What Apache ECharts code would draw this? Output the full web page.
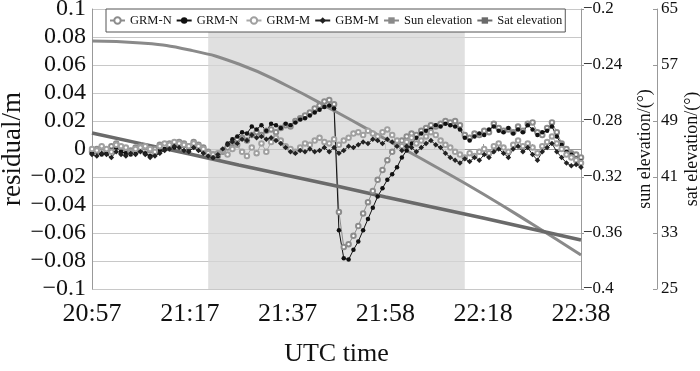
<!DOCTYPE html>
<html>
<head>
<meta charset="utf-8">
<script src="https://cdn.jsdelivr.net/npm/echarts@6/dist/echarts.min.js"></script>
<style>
  html, body { margin: 0; padding: 0; background: #fff; }
  #chart { width: 700px; height: 371px; }
</style>
</head>
<body>
<div id="chart"></div>
<script>
// sample times, minutes after 20:57 UTC
const minutes = [0, 1, 2, 3, 4, 5, 6, 7, 8, 9, 10, 11, 12, 13, 14, 15, 16, 17, 18, 19, 20,
  21, 22, 23, 24, 25, 26, 27, 28, 29, 30, 31, 32, 33, 34, 35, 36, 37, 38, 39, 40,
  41, 42, 43, 44, 45, 46, 47, 48, 49, 50, 51, 52, 53, 54, 55, 56, 57, 58, 59, 60,
  61, 62, 63, 64, 65, 66, 67, 68, 69, 70, 71, 72, 73, 74, 75, 76, 77, 78, 79, 80,
  81, 82, 83, 84, 85, 86, 87, 88, 89, 90, 91, 92, 93, 94, 95, 96, 97, 98, 99, 100, 101];

// residuals (m)
const grmN1 = [-0.002, 0, 0.001, -0.001, 0.002, 0.004, 0.001, 0, -0.001, 0.001, 0.002, 0.001, -0.001, 0, 0.003, 0.002, 0.004, 0.003, 0.005, 0.004, 0.002, 0.005, 0.003, 0.001, -0.002,
  -0.004, -0.005, -0.002, 0.001, 0.004, 0.007, 0.008, 0.006, 0.01, 0.012, 0.01, 0.013, 0.014, 0.012, 0.015, 0.017, 0.016, 0.02, 0.022, 0.024, 0.026, 0.029, 0.031, 0.034, 0.035, 0.032,
  -0.045, -0.07, -0.068, -0.062, -0.055, -0.046, -0.038, -0.03, -0.022, -0.015, -0.008, -0.002, 0.003, 0.006, 0.009, 0.011, 0.01, 0.013, 0.015, 0.017, 0.016, 0.018, 0.02, 0.019, 0.02, 0.017,
  0.01, 0.008, 0.011, 0.01, 0.013, 0.012, 0.018, 0.015, 0.013, 0.014, 0.012, 0.016, 0.013, 0.018, 0.019, 0.012, 0.01, 0.015, 0.019, 0.012, 0.004, 0, -0.003, -0.004, -0.006];
const grmN2 = [-0.003, -0.002, -0.004, -0.003, -0.001, 0.001, -0.002, -0.003, -0.004, -0.002, -0.001, -0.003, -0.005, -0.004, -0.001, 0, 0.002, 0.001, 0.004, 0.002, 0, 0.003, 0.001, -0.002, -0.004,
  -0.006, -0.005, -0.001, 0.004, 0.007, 0.009, 0.012, 0.011, 0.016, 0.014, 0.017, 0.013, 0.018, 0.017, 0.015, 0.018, 0.017, 0.019, 0.021, 0.022, 0.024, 0.026, 0.028, 0.03, 0.031, 0.029,
  -0.058, -0.078, -0.079, -0.072, -0.066, -0.058, -0.05, -0.042, -0.034, -0.028, -0.022, -0.018, -0.013, -0.006, -0.001, 0.004, 0.008, 0.011, 0.013, 0.014, 0.017, 0.016, 0.018, 0.017, 0.016, 0.014,
  0.008, 0.006, 0.009, 0.011, 0.01, 0.014, 0.016, 0.013, 0.012, 0.015, 0.011, 0.014, 0.012, 0.017, 0.014, 0.01, 0.012, 0.013, 0.016, 0.009, 0.003, -0.002, -0.004, -0.007, -0.009];
const grmM = [0, -0.001, 0.002, 0, -0.002, 0.003, 0.002, 0.001, -0.002, 0, 0.001, 0.002, 0, -0.002, 0.002, 0.004, 0.003, 0.005, 0.004, 0.003, 0.002, 0.004, 0.002, 0, -0.003,
  -0.004, -0.003, -0.001, -0.004, 0, 0.003, -0.002, -0.005, 0.001, -0.003, 0.004, -0.002, 0.005, 0.008, 0.006, 0.002, 0, -0.002, 0.001, 0.004, 0.003, 0.006, 0.008, 0.005, 0.004, 0.007,
  0.003, 0.006, 0.008, 0.011, 0.012, 0.01, 0.013, 0.011, 0.009, 0.012, 0.014, 0.01, 0.006, 0.002, 0.005, 0.008, 0.004, 0.006, 0.009, 0.012, 0.01, 0.006, 0.003, 0.001, -0.002, -0.004,
  -0.006, -0.003, -0.005, -0.002, 0, -0.003, 0.002, 0.004, 0.001, -0.002, 0.003, 0.006, 0.002, 0.004, 0.001, -0.003, 0.002, 0.005, 0.009, 0.004, 0, -0.004, -0.006, -0.008, -0.01];
const gbmM = [-0.004, -0.005, -0.003, -0.004, -0.006, -0.002, -0.004, -0.005, -0.003, -0.004, -0.002, -0.004, -0.006, -0.005, -0.003, -0.001, 0, 0.002, 0.001, -0.001, -0.002, 0.001, -0.001, -0.003, -0.005,
  -0.006, -0.004, 0, 0.003, 0.005, 0.004, 0.007, 0.006, 0.01, 0.008, 0.009, 0.007, 0.008, 0.006, 0.004, 0.001, -0.002, -0.003, -0.001, -0.002, 0, -0.002, -0.001, 0.001, -0.002, 0.001,
  -0.003, -0.001, 0.002, 0.001, 0.003, 0.005, 0.004, 0.007, 0.006, 0.004, 0.007, 0.005, 0.002, -0.001, 0.002, 0.001, -0.002, 0.001, 0.004, 0.006, 0.003, 0.001, -0.003, -0.006, -0.008, -0.01,
  -0.007, -0.009, -0.006, -0.008, -0.004, -0.006, -0.002, 0, -0.003, -0.006, 0, 0.002, -0.002, 0.001, -0.004, -0.008, -0.002, 0.001, 0.004, -0.002, -0.006, -0.01, -0.012, -0.011, -0.013];

// elevations, sampled every 10.1 min (seconds)
const elevSeconds = [0, 606, 1212, 1818, 2424, 3030, 3636, 4242, 4848, 5454, 6060];
const sunElev = [-0.2229, -0.2243, -0.2293, -0.2393, -0.255, -0.2736, -0.2929, -0.3121, -0.3321, -0.3536, -0.3757];
const satElev = [47.29, 45.77, 44.29, 42.71, 41.21, 39.71, 38.14, 36.64, 35.14, 33.57, 32.0];

// shaded interval (seconds)
const shadeSpan = [1440, 4620];

const timeLabels = ['20:57', '21:17', '21:37', '21:58', '22:18', '22:38'];
const satMin = 25;

const serif = '"Liberation Serif", "DejaVu Serif", serif';
const fmtNum = v => {
  const s = String(parseFloat(v.toFixed(3)));
  return s === '-0' ? '0' : s.replace('-', '\u2212');
};
const resid = arr => minutes.map((m, i) => [m * 60, arr[i]]);

const chart = echarts.init(document.getElementById('chart'));
chart.setOption({
  animation: false,
  backgroundColor: '#fff',
  grid: { left: 92, right: 119, top: 9, bottom: 82, outerBoundsMode: 'none' },
  legend: {
    left: 106, top: 9,
    padding: [5, 3],
    itemGap: 4, itemWidth: 15, itemHeight: 8,
    backgroundColor: '#fff',
    borderColor: '#555', borderWidth: 1, borderRadius: 0,
    textStyle: { fontFamily: serif, fontSize: 12.5, color: '#111' },
    data: ['GRM-N', 'GRM-N ', 'GRM-M', 'GBM-M', 'Sun elevation', 'Sat elevation']
  },
  xAxis: {
    type: 'value', min: 0, max: 6060, interval: 606,
    name: 'UTC time', nameLocation: 'middle', nameGap: 52, nameMoveOverlap: false,
    nameTextStyle: { fontFamily: serif, fontSize: 26, color: '#111' },
    axisLine: { lineStyle: { color: '#999' } },
    axisTick: { inside: true, length: 5, lineStyle: { color: '#999' } },
    splitLine: { show: false },
    axisLabel: {
      fontFamily: serif, fontSize: 26, color: '#111', margin: 12,
      formatter: v => {
        const idx = Math.round(v / 606);
        return idx % 2 ? '' : timeLabels[idx / 2];
      }
    }
  },
  yAxis: [
    {
      type: 'value', min: -0.1, max: 0.1, interval: 0.02,
      name: 'residual/m', nameLocation: 'middle', nameRotate: 90, nameGap: 66, nameMoveOverlap: false,
      nameTextStyle: { fontFamily: serif, fontSize: 27, color: '#111' },
      axisLine: { show: true, lineStyle: { color: '#999' } },
      axisTick: { show: false },
      splitLine: { lineStyle: { color: '#c8c8c8' } },
      axisLabel: { fontFamily: serif, fontSize: 24, color: '#111', margin: 6, formatter: fmtNum }
    },
    {
      type: 'value', position: 'right', min: -0.4, max: -0.2, interval: 0.04,
      name: 'sun elevation/(\u00b0)', nameLocation: 'middle', nameRotate: 90, nameGap: 55, nameMoveOverlap: false,
      nameTextStyle: { fontFamily: serif, fontSize: 18, color: '#111' },
      axisLine: { show: true, lineStyle: { color: '#999' } },
      axisTick: { show: true, length: 3, lineStyle: { color: '#999' } },
      splitLine: { show: false },
      axisLabel: { fontFamily: serif, fontSize: 17, color: '#111', margin: 2, formatter: fmtNum }
    },
    {
      type: 'value', position: 'right', offset: 76, min: 0, max: 65 - satMin, interval: 8,
      name: 'sat elevation/(\u00b0)', nameLocation: 'middle', nameRotate: 90, nameGap: 26, nameMoveOverlap: false,
      nameTextStyle: { fontFamily: serif, fontSize: 18, color: '#111' },
      axisLine: { show: true, lineStyle: { color: '#999' } },
      axisTick: { show: true, inside: true, length: 4, lineStyle: { color: '#999' } },
      splitLine: { show: false },
      axisLabel: { fontFamily: serif, fontSize: 17, color: '#111', margin: 4, formatter: v => String(v + satMin) }
    }
  ],
  series: [
    {
      name: 'GRM-N', type: 'line', data: resid(grmN1),
      symbol: 'emptyCircle', symbolSize: 4.5,
      lineStyle: { color: '#8c8c8c', width: 1 },
      itemStyle: { color: '#8c8c8c', borderWidth: 1 },
      markArea: {
        silent: true,
        itemStyle: { color: '#d6d6d6', opacity: 0.75 },
        data: [[{ xAxis: shadeSpan[0] }, { xAxis: shadeSpan[1] }]]
      }
    },
    {
      name: 'GRM-N ', type: 'line', data: resid(grmN2),
      symbol: 'circle', symbolSize: 4.5,
      lineStyle: { color: '#111', width: 1 },
      itemStyle: { color: '#111' }
    },
    {
      name: 'GRM-M', type: 'line', data: resid(grmM),
      symbol: 'emptyCircle', symbolSize: 4.5,
      lineStyle: { color: '#a8a8a8', width: 1 },
      itemStyle: { color: '#a0a0a0', borderWidth: 1 }
    },
    {
      name: 'GBM-M', type: 'line', data: resid(gbmM),
      symbol: 'diamond', symbolSize: 5.5,
      lineStyle: { color: '#222', width: 1 },
      itemStyle: { color: '#222' }
    },
    {
      name: 'Sun elevation', type: 'line', yAxisIndex: 1, smooth: true,
      data: elevSeconds.map((s, i) => [s, sunElev[i]]),
      symbol: 'rect', symbolSize: 3, showSymbol: false,
      lineStyle: { color: '#8a8a8a', width: 3 },
      itemStyle: { color: '#8a8a8a' }
    },
    {
      name: 'Sat elevation', type: 'line', yAxisIndex: 2,
      data: elevSeconds.map((s, i) => [s, satElev[i] - satMin]),
      symbol: 'rect', symbolSize: 3, showSymbol: false,
      lineStyle: { color: '#6a6a6a', width: 3.5 },
      itemStyle: { color: '#6a6a6a' }
    }
  ]
});
</script>
</body>
</html>
